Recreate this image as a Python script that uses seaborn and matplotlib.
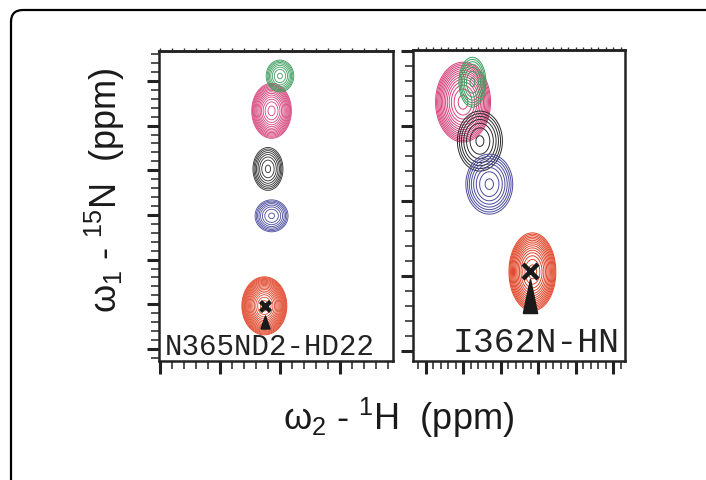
import numpy as np
import matplotlib
matplotlib.use("Agg")
import matplotlib.pyplot as plt
import seaborn as sns
import pandas as pd
from matplotlib.ticker import MultipleLocator
from matplotlib.patches import FancyBboxPatch
from matplotlib.path import Path

# peaks listed in drawing order: pink, green, black, blue, red
peak_colors = ["#d6437a", "#3d9e5e", "#2b2b2b", "#4b4b9e", "#e2462a"]

# left panel: N365 ND2-HD22 (ppm)
n365_h = [8.07, 8.00, 8.10, 8.07, 8.13]
n365_n = [113.34, 111.78, 115.94, 118.04, 122.07]
n365_wh = [0.33, 0.23, 0.25, 0.275, 0.375]
n365_wn = [2.46, 1.43, 1.92, 1.43, 2.6]
n365_nlev = [14, 8, 8, 8, 18]

# right panel: I362N HN (ppm)
i362_h = [8.80, 8.75, 8.71, 8.66, 8.43]
i362_n = [117.36, 116.83, 118.40, 119.55, 121.89]
i362_wh = [0.293, 0.144, 0.24, 0.25, 0.25]
i362_wn = [2.13, 1.33, 1.6, 1.6, 2.08]
i362_nlev = [14, 7, 7, 8, 15]

# reference peak (cross) and arrow position
ref_h = [8.125, 8.443]
ref_n = [122.07, 121.87]
arrow_n = [122.78, 122.53]

sns.set_style("ticks")
plt.rcParams["font.family"] = ["Liberation Sans", "DejaVu Sans"]
plt.rcParams["mathtext.fontset"] = "custom"
plt.rcParams["mathtext.rm"] = "Liberation Sans"
plt.rcParams["mathtext.it"] = "Liberation Sans"

fig = plt.figure(figsize=(7.06, 4.81), dpi=100)
W, H = 706, 481
ax1 = fig.add_axes([159 / W, 1 - 362 / H, (393 - 159) / W, (362 - 52) / H])
ax2 = fig.add_axes([413 / W, 1 - 362 / H, (625 - 413) / W, (362 - 51) / H])


def draw_peaks(ax, xs, ys, ws, hs, nlev, xlim, ylim, lw):
    gx = np.linspace(min(xlim), max(xlim), 400)
    gy = np.linspace(min(ylim), max(ylim), 400)
    X, Y = np.meshgrid(gx, gy)
    for x, y, w, h, n, c in zip(xs, ys, ws, hs, nlev, peak_colors):
        sx = w / 2 / 2.146
        sy = h / 2 / 2.146
        Z = np.exp(-0.5 * (((X - x) / sx) ** 2 + ((Y - y) / sy) ** 2))
        ax.contour(X, Y, Z, levels=np.geomspace(0.1, 0.93, n), colors=c, linewidths=lw)


def style_axis(ax, xmaj, xmin, xlim, ylim):
    ax.set_xlim(*xlim)
    ax.set_ylim(*ylim)
    ax.xaxis.set_major_locator(MultipleLocator(xmaj))
    ax.xaxis.set_minor_locator(MultipleLocator(xmin))
    ax.yaxis.set_major_locator(MultipleLocator(2))
    ax.yaxis.set_minor_locator(MultipleLocator(0.4))
    ax.tick_params(which="major", direction="out", length=9, width=2.2,
                   left=True, bottom=True, top=False, right=False,
                   labelleft=False, labelbottom=False, color="#222222")
    ax.tick_params(which="minor", direction="out", length=5.5, width=1.1,
                   left=True, bottom=True, top=False, right=False, color="#222222")
    for s in ax.spines.values():
        s.set_visible(True)
        s.set_linewidth(1.8)
        s.set_color("#222222")
    sec = ax.secondary_xaxis("top")
    sec.xaxis.set_major_locator(MultipleLocator(xmaj))
    sec.xaxis.set_minor_locator(MultipleLocator(xmin))
    sec.tick_params(which="both", direction="out", length=2.5, width=1.0,
                    labeltop=False, color="#333333")
    sec.spines["top"].set_linewidth(1.8)
    sec.spines["top"].set_color("#222222")
    ax.set_xlabel("")
    ax.set_ylabel("")


xlim1, ylim1 = (9.008, 7.058), (124.54, 110.66)
xlim2, ylim2 = (9.067, 7.936), (124.27, 115.97)

draw_peaks(ax1, n365_h, n365_n, n365_wh, n365_wn, n365_nlev, xlim1, ylim1, 0.6)
draw_peaks(ax2, i362_h, i362_n, i362_wh, i362_wn, i362_nlev, xlim2, ylim2, 0.7)

refs = pd.DataFrame({"h": ref_h, "n": ref_n, "arrow": arrow_n})
for ax, i, xs, ts, half in [(ax1, 0, 52, 88, 0.35), (ax2, 1, 117, 600, 0.21)]:
    sns.scatterplot(data=refs.iloc[[i]], x="h", y="n", marker="x", s=xs,
                    color="#1a1a1a", linewidth=3.2, ax=ax, zorder=5, legend=False)
    tri = Path([(-half, -0.5), (half, -0.5), (0, 0.5), (-half, -0.5)])
    ax.scatter(refs["h"].iloc[i], refs["arrow"].iloc[i], marker=tri, s=ts,
               color="#1a1a1a", zorder=5)

style_axis(ax1, 0.5, 0.1, xlim1, ylim1)
style_axis(ax2, 0.2, 0.04, xlim2, ylim2)

ax1.text(0.026, 0.023, "N365ND2-HD22", transform=ax1.transAxes,
         family="Liberation Mono", fontsize=21, ha="left", va="baseline", color="#222222")
ax2.text(0.976, 0.032, "I362N-HN", transform=ax2.transAxes,
         family="Liberation Mono", fontsize=25, ha="right", va="baseline", color="#222222")

fig.text(399 / W, 1 - 418 / H, r"$\omega_2$ - $^{1}$H  (ppm)", ha="center", va="center",
         fontsize=26, color="#1a1a1a")
fig.text(105 / W, 1 - 190 / H, r"$\omega_1$ - $^{15}$N  (ppm)", ha="center", va="center",
         rotation=90, fontsize=26, color="#1a1a1a")

frame = FancyBboxPatch((0.11, -1.0), 8.0, 4.70 + 1.0,
                       boxstyle="round,pad=0,rounding_size=0.12",
                       transform=fig.dpi_scale_trans, fill=False,
                       lw=1.6, ec="black", clip_on=False)
fig.add_artist(frame)

fig.savefig("out.png", dpi=100)
